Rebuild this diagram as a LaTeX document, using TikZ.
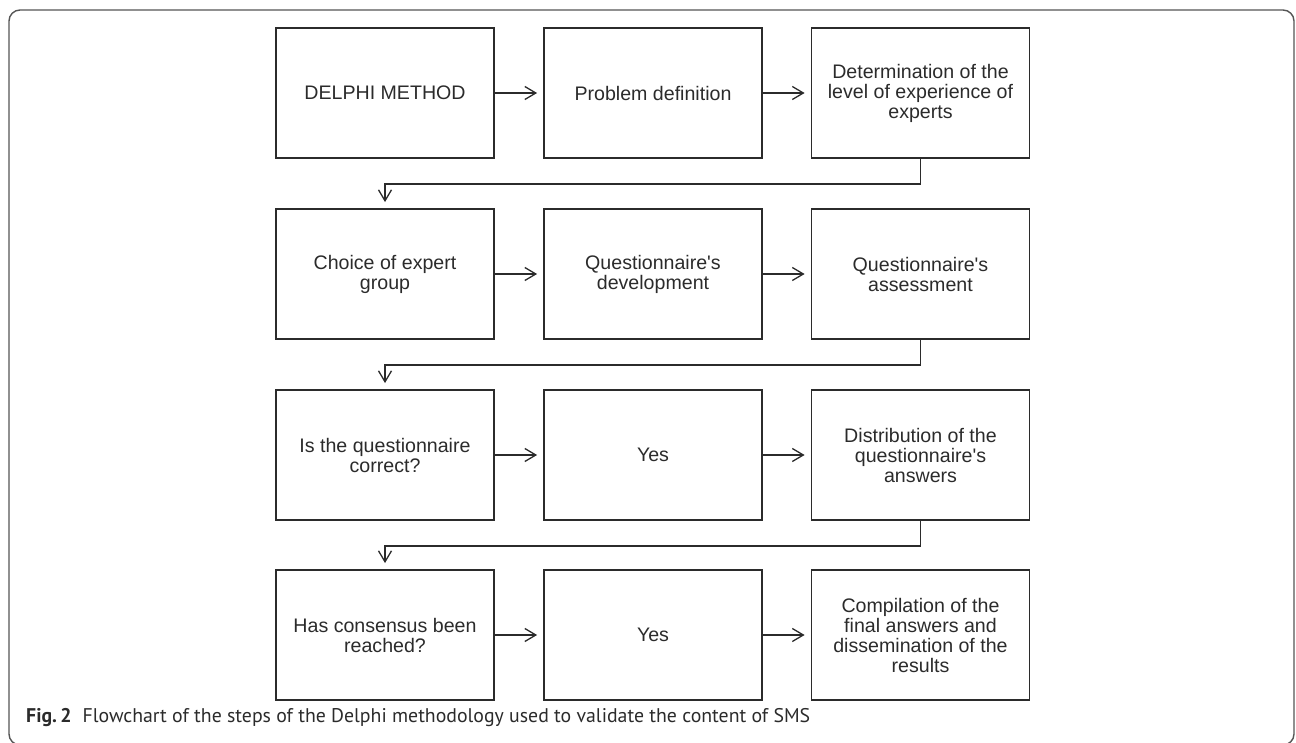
\documentclass[tikz,border=0pt]{standalone}
\usepackage{fontspec}
\usetikzlibrary{arrows.meta}
\newfontfamily\boxfont{Liberation Sans}[Ligatures=TeXOff]
\newfontfamily\capfont{PT Sans}
\definecolor{ink}{HTML}{2B2B2B}
\definecolor{framec}{HTML}{555555}
\tikzset{
  stepbox/.style={draw=ink, line width=1.8pt, minimum width=218pt, minimum height=130pt,
    inner sep=0pt, align=center, text=ink,
    font=\boxfont\fontsize{19.6pt}{20pt}\selectfont},
  conn/.style={draw=ink, line width=1.3pt,
    -{Straight Barb[length=11pt,width=13pt,line width=1.3pt]}, shorten >=6pt},
}
\begin{document}
\begin{tikzpicture}[x=1pt,y=-1pt]
\useasboundingbox (0,0) rectangle (1296,743);
\draw[framec, line width=1.4pt, rounded corners=11pt] (9,10) rectangle (1294,745);
% row 1
\node[stepbox] (a1) at (385,93) {DELPHI METHOD};
\node[stepbox] (a2) at (653,93) {Problem definition};
\node[stepbox] (a3) at (920.5,93) {Determination of the\\level of experience of\\experts};
% row 2
\node[stepbox] (b1) at (385,274) {Choice of expert\\group};
\node[stepbox] (b2) at (653,274) {Questionnaire's\\development};
\node[stepbox] (b3) at (920.5,274) {Questionnaire's\\assessment};
% row 3
\node[stepbox] (c1) at (385,455) {Is the questionnaire\\correct?};
\node[stepbox] (c2) at (653,455) {Yes};
\node[stepbox] (c3) at (920.5,455) {Distribution of the\\questionnaire's\\answers};
% row 4
\node[stepbox] (d1) at (385,635) {Has consensus been\\reached?};
\node[stepbox] (d2) at (653,635) {Yes};
\node[stepbox] (d3) at (920.5,635) {Compilation of the\\final answers and\\dissemination of the\\results};
% horizontal arrows
\foreach \r in {a,b,c,d}{
  \draw[conn] (\r1.east) -- (\r2.west);
  \draw[conn] (\r2.east) -- (\r3.west);
}
% return connectors
\draw[conn] (a3.south) -- ++(0,25) -| (b1.north);
\draw[conn] (b3.south) -- ++(0,25) -| (c1.north);
\draw[conn] (c3.south) -- ++(0,25) -| (d1.north);
% caption
\node[anchor=base west, inner sep=0pt, text=ink, font=\capfont\fontsize{19.8pt}{22pt}\selectfont] (cap) at (26,722)
  {\textbf{Fig.\,2}\hspace{11pt}Flowchart of the steps of the Delphi methodology used to validate the content of SMS};
\end{tikzpicture}
\end{document}
